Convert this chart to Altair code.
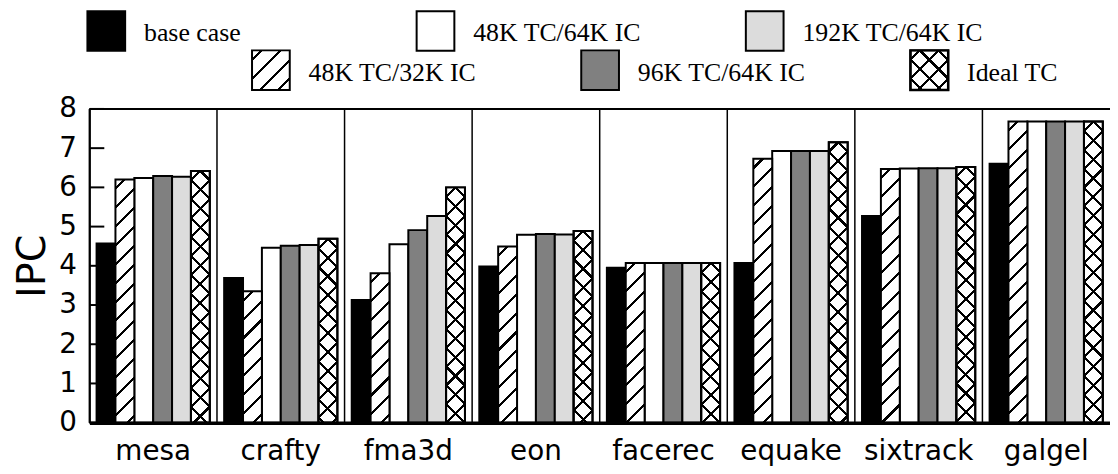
import altair as alt
import pandas as pd

# ---------------- data ----------------
benchmarks = ["mesa", "crafty", "fma3d", "eon", "facerec", "equake", "sixtrack", "galgel"]
series = ["base case", "48K TC/32K IC", "48K TC/64K IC", "96K TC/64K IC",
          "192K TC/64K IC", "Ideal TC"]

base_case = [4.57, 3.69, 3.13, 3.98, 3.95, 4.07, 5.27, 6.60]
tc48_ic32 = [6.20, 3.35, 3.81, 4.49, 4.07, 6.73, 6.47, 7.68]
tc48_ic64 = [6.24, 4.46, 4.55, 4.79, 4.07, 6.93, 6.48, 7.68]
tc96_ic64 = [6.29, 4.51, 4.91, 4.81, 4.07, 6.93, 6.49, 7.68]
tc192_ic64 = [6.27, 4.53, 5.27, 4.80, 4.07, 6.93, 6.49, 7.68]
ideal_tc = [6.42, 4.69, 6.00, 4.89, 4.07, 7.15, 6.52, 7.68]

y_ticks = [0, 1, 2, 3, 4, 5, 6, 7, 8]

values = [base_case, tc48_ic32, tc48_ic64, tc96_ic64, tc192_ic64, ideal_tc]

# ---------------- layout / style ----------------
PLOT_W, PLOT_H = 1028, 316
Y_MAX = max(y_ticks)
PAD_OUTER = 0.38
BAR_W = PLOT_W / len(benchmarks) / (len(series) + 2 * PAD_OUTER)
PERIOD = 19.0
THICK = 3.1
CLEAR = "rgba(0,0,0,0)"

solid_series = [series[0], series[2], series[3], series[4]]
solid_colors = ["#000000", "#ffffff", "#808080", "#dcdcdc"]
hatch_series = series[1]
cross_series = series[5]


def stripes(W, H, direction, bg, phase):
    r = H / W
    a = (1 + r) / (1 + r * r)
    if direction == "/":
        coords = dict(x1=0, y1=0, x2=a, y2=a * r)
    else:
        coords = dict(x1=0, y1=1, x2=a, y2=1 - a * r)
    L = W + H
    stops = [(0.0, bg)]
    k = -1
    while True:
        c = phase + k * PERIOD
        lo = (c - THICK / 2) / L
        hi = (c + THICK / 2) / L
        if lo > 1:
            break
        if hi > 0:
            lo, hi = max(lo, 0.0), min(hi, 1.0)
            stops += [(lo, bg), (lo, "black"), (hi, "black"), (hi, bg)]
        k += 1
    stops.append((1.0, bg))
    clean = []
    last = 0.0
    for o, col in stops:
        o = max(o, last)
        last = o
        clean.append(alt.GradientStop(offset=round(o, 6), color=col))
    return alt.LinearGradient(gradient="linear", stops=clean, **coords)


rows = []
for s, vals in zip(series, values):
    for b, v in zip(benchmarks, vals):
        rows.append({"bench": b, "series": s, "ipc": v})
df = pd.DataFrame(rows)

x_scale = alt.Scale(domain=benchmarks, paddingInner=0, paddingOuter=0)
y_scale = alt.Scale(domain=[0, Y_MAX], nice=False, zero=True)

x_axis = alt.Axis(labelFont="DejaVu Sans", labelFontSize=28, labelColor="black",
                  labelAngle=0, labelPadding=15, labelOverlap=False, ticks=False,
                  tickSize=0, domainColor="black", domainWidth=3.5, grid=False,
                  zindex=1)
y_axis = alt.Axis(values=y_ticks, labelFont="DejaVu Sans", labelFontSize=28,
                  labelColor="black", labelPadding=13, ticks=False, tickSize=0,
                  domainColor="black", domainWidth=2, grid=False,
                  titleFont="DejaVu Sans", titleFontSize=40, titleFontWeight="normal",
                  titleColor="black", titlePadding=6, zindex=1)

x_enc_axis = alt.X("bench:N", sort=benchmarks, title=None, scale=x_scale, axis=x_axis)
y_enc_axis = alt.Y("ipc:Q", title="IPC", scale=y_scale, axis=y_axis)
x_enc = alt.X("bench:N", sort=benchmarks, title=None, scale=x_scale, axis=None)
y_enc = alt.Y("ipc:Q", title="IPC", scale=y_scale, axis=None)
xo_enc = alt.XOffset(
    "series:N", sort=series,
    scale=alt.Scale(domain=series, paddingInner=0, paddingOuter=PAD_OUTER),
)

base = alt.Chart(df)

# inward y ticks
tick_df = pd.DataFrame({"tick": y_ticks})
ticks = alt.Chart(tick_df).mark_rule(color="black", strokeWidth=2).encode(
    y=alt.Y("tick:Q", axis=None, scale=y_scale),
    x=alt.value(0), x2=alt.value(15),
)

# group separators
sep_df = pd.DataFrame({"bench": benchmarks})
seps = alt.Chart(sep_df).mark_rule(color="black", strokeWidth=1.5).encode(
    x=alt.X("bench:N", sort=benchmarks, bandPosition=0, axis=None, scale=x_scale),
)

# top frame line
top_df = pd.DataFrame({"top": [Y_MAX]})
top_line = alt.Chart(top_df).mark_rule(color="black", strokeWidth=2).encode(
    y=alt.Y("top:Q", axis=None, scale=y_scale),
)

solid = base.transform_filter(
    alt.FieldOneOfPredicate(field="series", oneOf=solid_series)
).mark_bar(stroke="black", strokeWidth=2).encode(
    x=x_enc_axis, xOffset=xo_enc, y=y_enc_axis,
    fill=alt.Fill("series:N", scale=alt.Scale(domain=solid_series, range=solid_colors),
                  legend=None),
)

layers = [ticks, seps, top_line, solid]

for b, v in zip(benchmarks, tc48_ic32):
    H = v / Y_MAX * PLOT_H
    layers.append(
        base.transform_filter(
            (alt.datum.series == hatch_series) & (alt.datum.bench == b)
        ).mark_bar(fill=stripes(BAR_W, H, "/", "white", PERIOD / 2),
                   stroke="black", strokeWidth=2)
        .encode(x=x_enc, xOffset=xo_enc, y=y_enc)
    )

for b, v in zip(benchmarks, ideal_tc):
    H = v / Y_MAX * PLOT_H
    ph2 = (H - PERIOD / 2) % PERIOD
    f = (alt.datum.series == cross_series) & (alt.datum.bench == b)
    layers.append(
        base.transform_filter(f)
        .mark_bar(fill=stripes(BAR_W, H, "/", "white", PERIOD / 2),
                  stroke="black", strokeWidth=2)
        .encode(x=x_enc, xOffset=xo_enc, y=y_enc)
    )
    layers.append(
        base.transform_filter(f)
        .mark_bar(fill=stripes(BAR_W, H, "\\", CLEAR, ph2),
                  stroke="black", strokeWidth=2)
        .encode(x=x_enc, xOffset=xo_enc, y=y_enc)
    )

# ---------------- legend ----------------
BOX_W, BOX_H = 38, 40
SLOT = 165.8
leg_df = pd.DataFrame({
    "series": series,
    "slot": list(range(len(series))),
    "row": [i % 2 for i in range(len(series))],
})
lx = alt.X("slot:Q", axis=None,
           scale=alt.Scale(domain=[0, len(series) - 1], nice=False, zero=False,
                           range=[17, 17 + SLOT * (len(series) - 1)]))
ly = alt.Y("row:Q", axis=None,
           scale=alt.Scale(domain=[0, 1], nice=False, zero=False, range=[-78.5, -39]))
box_shape = "M-0.95,-1H0.95V1H-0.95Z"
leg_base = alt.Chart(leg_df)

leg_solid = leg_base.transform_filter(
    alt.FieldOneOfPredicate(field="series", oneOf=solid_series)
).mark_point(shape=box_shape, size=BOX_H * BOX_H, filled=True, opacity=1,
             stroke="black", strokeWidth=2).encode(
    x=lx, y=ly,
    fill=alt.Fill("series:N", scale=alt.Scale(domain=solid_series, range=solid_colors),
                  legend=None),
)
leg_hatch = leg_base.transform_filter(alt.datum.series == hatch_series).mark_point(
    shape=box_shape, size=BOX_H * BOX_H, filled=True, opacity=1,
    fill=stripes(BOX_W, BOX_H, "/", "white", PERIOD / 2),
    stroke="black", strokeWidth=2).encode(x=lx, y=ly)
leg_cross1 = leg_base.transform_filter(alt.datum.series == cross_series).mark_point(
    shape=box_shape, size=BOX_H * BOX_H, filled=True, opacity=1,
    fill=stripes(BOX_W, BOX_H, "/", "white", PERIOD / 2),
    stroke="black", strokeWidth=2).encode(x=lx, y=ly)
leg_cross2 = leg_base.transform_filter(alt.datum.series == cross_series).mark_point(
    shape=box_shape, size=BOX_H * BOX_H, filled=True, opacity=1,
    fill=stripes(BOX_W, BOX_H, "\\", CLEAR, (BOX_H - PERIOD / 2) % PERIOD),
    stroke="black", strokeWidth=2.5).encode(x=lx, y=ly)
leg_text = leg_base.mark_text(font="Liberation Serif", fontSize=26, align="left",
                              baseline="alphabetic", dx=38, dy=10.5,
                              color="black").encode(x=lx, y=ly, text="series:N")

layers += [leg_solid, leg_hatch, leg_cross1, leg_cross2, leg_text]

chart = alt.layer(*layers).resolve_scale(
    x="independent", y="independent"
).properties(
    width=PLOT_W, height=PLOT_H,
    autosize=alt.AutoSizeParams(type="none"),
    padding={"left": 82, "top": 100, "right": 0, "bottom": 46},
    background="white",
).configure_view(strokeWidth=0)

chart.save("out.html", embed_options={"renderer": "svg", "actions": False})
